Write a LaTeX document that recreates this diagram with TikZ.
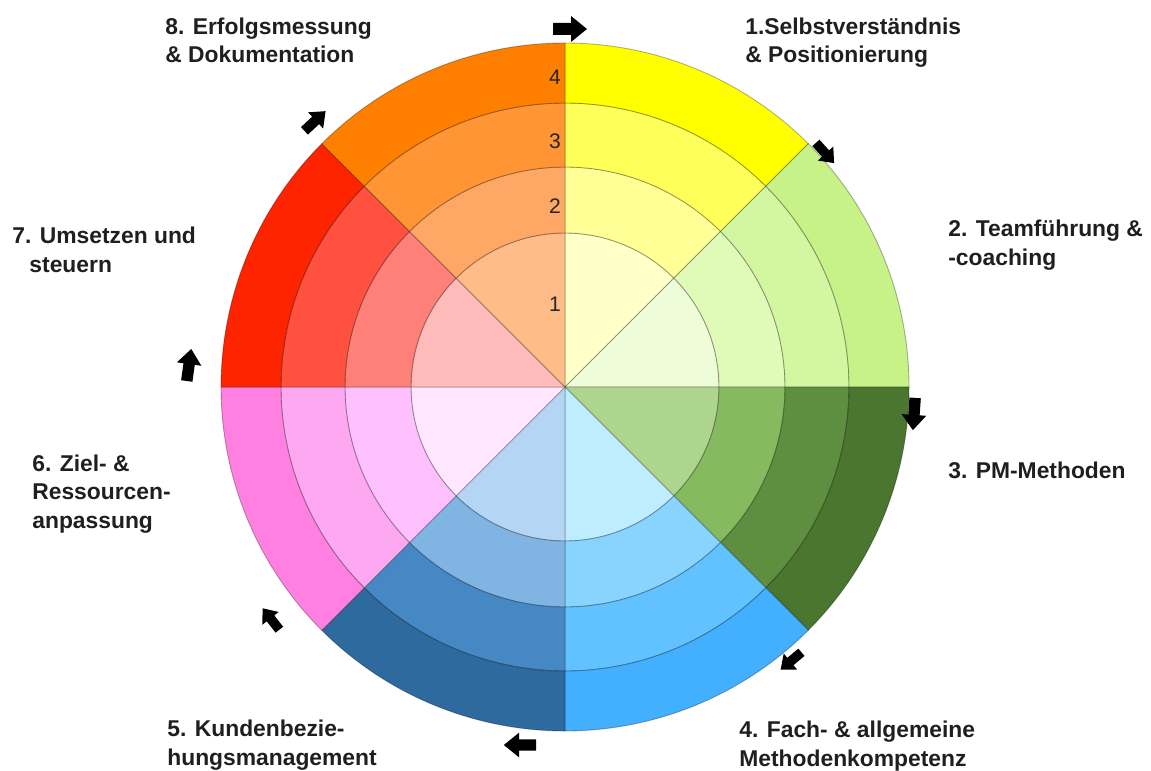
\documentclass[tikz,border=0pt]{standalone}
\usepackage{fontspec}
\setmainfont{Liberation Sans}
% sector colours: s<k>r<i>, k = sector, i = ring (1 inner .. 4 outer)
\definecolor{s1r1}{HTML}{FFFFC8}\definecolor{s1r2}{HTML}{FFFF96}\definecolor{s1r3}{HTML}{FFFF5A}\definecolor{s1r4}{HTML}{FFFF00}
\definecolor{s2r1}{HTML}{EFFCD8}\definecolor{s2r2}{HTML}{E0FAB8}\definecolor{s2r3}{HTML}{D2F7A0}\definecolor{s2r4}{HTML}{C6F288}
\definecolor{s3r1}{HTML}{AED58E}\definecolor{s3r2}{HTML}{86BA5E}\definecolor{s3r3}{HTML}{5E8F40}\definecolor{s3r4}{HTML}{4A7630}
\definecolor{s4r1}{HTML}{BEEDFF}\definecolor{s4r2}{HTML}{88D4FF}\definecolor{s4r3}{HTML}{62C2FF}\definecolor{s4r4}{HTML}{42B0FF}
\definecolor{s5r1}{HTML}{B4D6F4}\definecolor{s5r2}{HTML}{80B4E2}\definecolor{s5r3}{HTML}{4688C4}\definecolor{s5r4}{HTML}{2E6A9E}
\definecolor{s6r1}{HTML}{FFE8FF}\definecolor{s6r2}{HTML}{FFC0FF}\definecolor{s6r3}{HTML}{FFA8F2}\definecolor{s6r4}{HTML}{FF80E0}
\definecolor{s7r1}{HTML}{FFBABA}\definecolor{s7r2}{HTML}{FF8078}\definecolor{s7r3}{HTML}{FF5040}\definecolor{s7r4}{HTML}{FF2400}
\definecolor{s8r1}{HTML}{FFBC88}\definecolor{s8r2}{HTML}{FFA866}\definecolor{s8r3}{HTML}{FF9534}\definecolor{s8r4}{HTML}{FF8000}
\begin{document}
\begin{tikzpicture}[x=0.02cm,y=-0.02cm,
  lbl/.style={anchor=base west, align=left, inner sep=0pt,
    font=\bfseries\fontsize{13}{16}\selectfont, text=black!88},
  num/.style={font=\fontsize{12}{14}\selectfont, text=black!85, inner sep=0pt},
  seg/.style={draw=black, draw opacity=0.3, line width=0.5pt},
  pics/barrow/.style={code={
    \fill[black] (-17,-6) -- (1,-6) -- (1,-13) -- (17,0) -- (1,13) -- (1,6) -- (-17,6) -- cycle;}}]
\useasboundingbox (0,0) rectangle (1151,770);
\coordinate (c) at (565,387);
\begin{scope}[shift={(c)}, yscale=-1]
  \foreach \k/\a in {1/45,2/0,3/-45,4/-90,5/-135,6/180,7/135,8/90} {
    \fill[fill=s\k r1, seg] (0,0) -- (\a:154) arc[start angle=\a, delta angle=45, radius=154] -- cycle;
    \foreach \i/\ri/\ro in {2/154/220,3/220/284,4/284/344} {
      \fill[fill=s\k r\i, seg] (\a:\ri) -- (\a:\ro) arc[start angle=\a, delta angle=45, radius=\ro]
        -- (\a+45:\ri) arc[start angle=\a+45, delta angle=-45, radius=\ri] -- cycle;
    }
  }
\end{scope}
% ring numbers
\node[num] (n4) at (555,77) {4};
\node[num] (n3) at (555,141) {3};
\node[num] (n2) at (555,206) {2};
\node[num] (n1) at (555,304) {1};
% labels (anchor = baseline of the last line)
\node[lbl] (l1) at (745,63) {1.Selbstverständnis\\\& Positionierung};
\node[lbl] (l2) at (948,265) {2. Teamführung \&\\-coaching};
\node[lbl] (l3) at (948,478) {3. PM-Methoden};
\node[lbl] (l4) at (739,766) {4. Fach- \& allgemeine\\Methodenkompetenz};
\node[lbl] (l5) at (167,765) {5. Kundenbezie-\\hungsmanagement};
\node[lbl] (l6) at (32,528) {6. Ziel- \&\\Ressourcen-\\anpassung};
\node[lbl] (l7) at (12,272) {7. Umsetzen und\\\hspace*{0.75em}steuern};
\node[lbl] (l8) at (165,63) {8. Erfolgsmessung\\\& Dokumentation};
% direction arrows
\pic[rotate=0] at (570,29) {barrow};
\pic[rotate=-48, scale=0.8] at (825,153) {barrow};
\pic[rotate=-94, scale=0.95] at (914,414) {barrow};
\pic[rotate=-140, scale=0.8] at (791,661) {barrow};
\pic[rotate=180, scale=0.95] at (520,745) {barrow};
\pic[rotate=128, scale=0.8] at (271,619) {barrow};
\pic[rotate=82, scale=0.95] at (189,365) {barrow};
\pic[rotate=43, scale=0.85] at (315,121) {barrow};
\end{tikzpicture}
\end{document}
